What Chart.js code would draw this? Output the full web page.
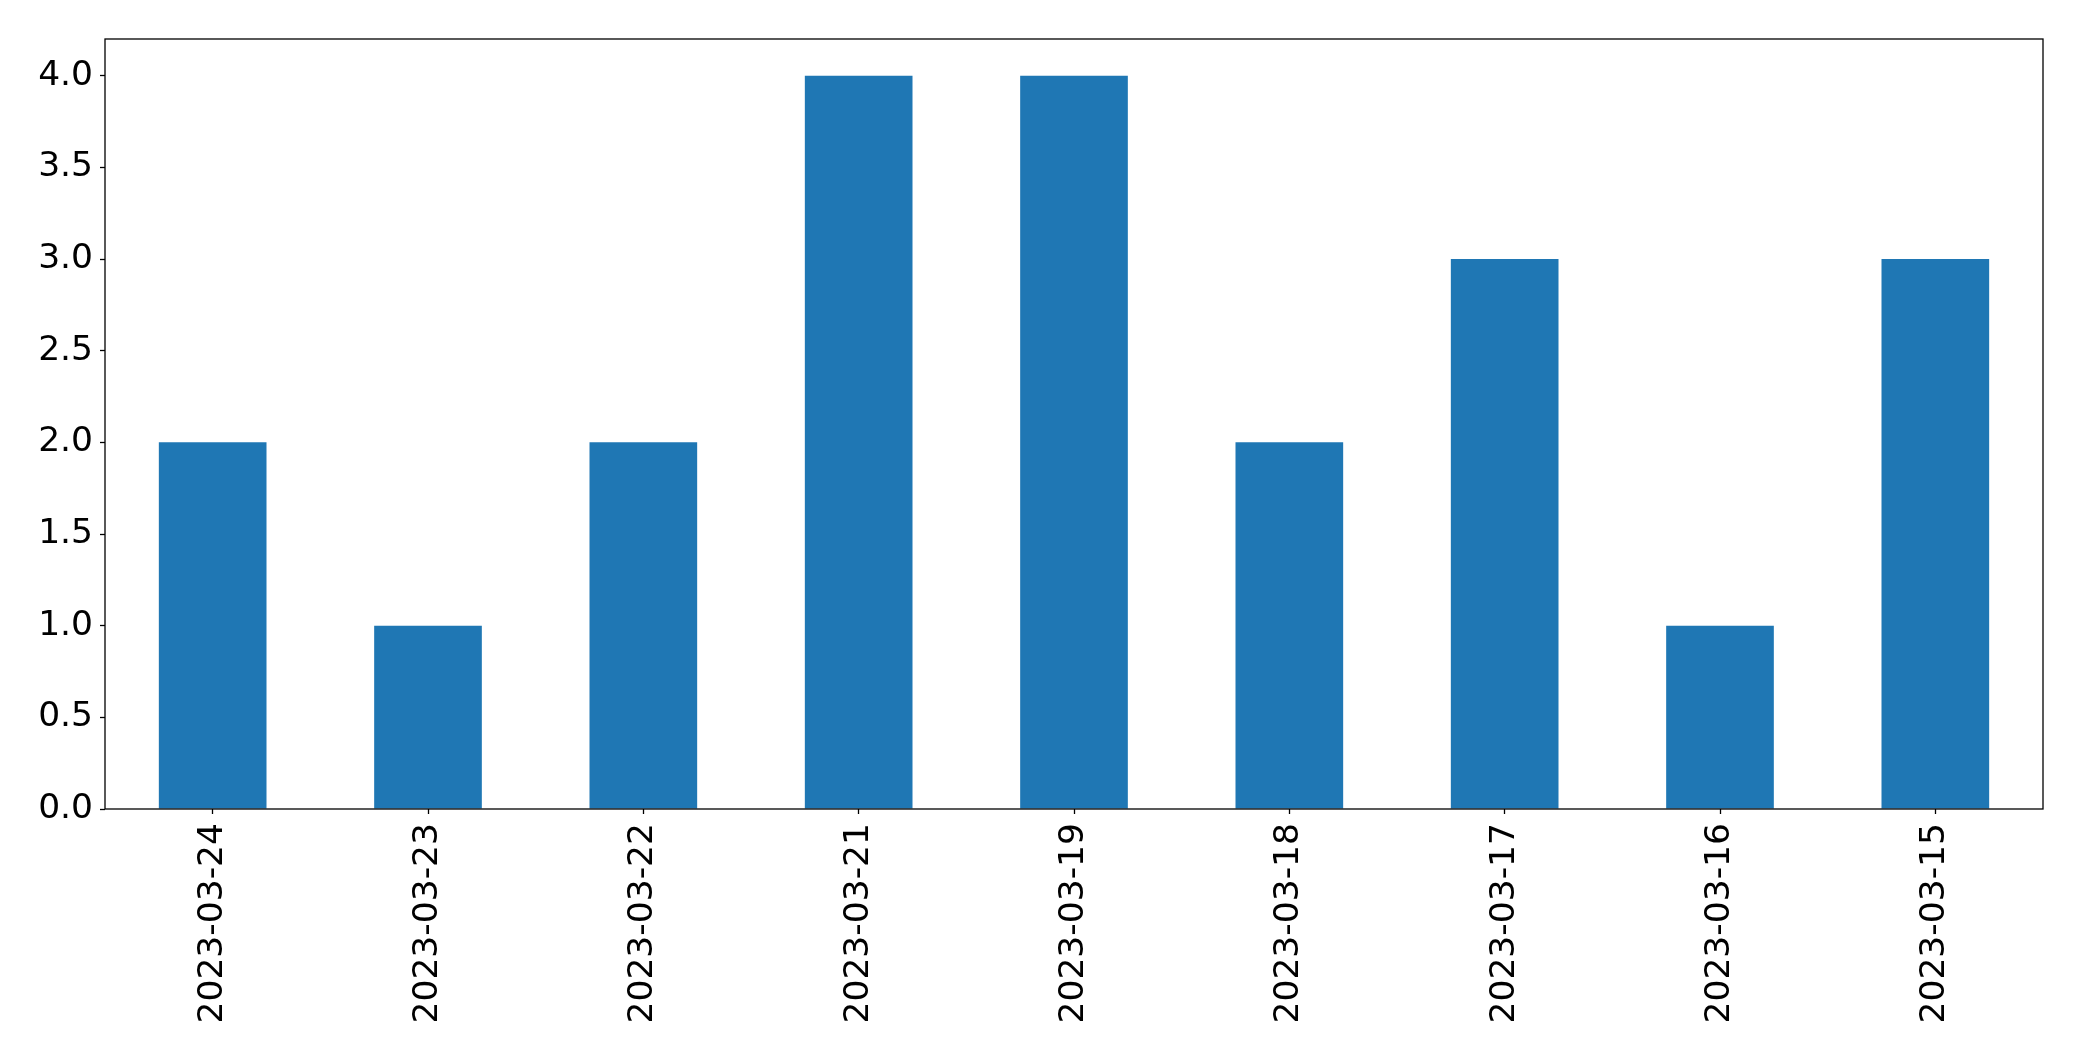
<!DOCTYPE html>
<html>
<head>
<meta charset="utf-8">
<script src="https://cdn.jsdelivr.net/npm/chart.js@4/dist/chart.umd.min.js"></script>
<style>
  html, body { margin: 0; padding: 0; background: #ffffff; }
  #wrap { width: 2082px; height: 1061px; position: relative; }
</style>
</head>
<body>
<div id="wrap"><canvas id="c" width="2082" height="1061"></canvas></div>
<script>
const categories = ["2023-03-24", "2023-03-23", "2023-03-22", "2023-03-21", "2023-03-19", "2023-03-18", "2023-03-17", "2023-03-16", "2023-03-15"];
const values = [2, 1, 2, 4, 4, 2, 3, 1, 3];
const yTickValues = [0, 0.5, 1, 1.5, 2, 2.5, 3, 3.5, 4];

const frame = {
  id: 'frame',
  afterDatasetsDraw(chart) {
    const { ctx, chartArea: a } = chart;
    ctx.save();
    ctx.strokeStyle = '#000';
    ctx.lineWidth = 1.3;
    ctx.strokeRect(a.left, a.top, a.right - a.left, a.bottom - a.top);
    ctx.restore();
  }
};

new Chart(document.getElementById('c'), {
  type: 'bar',
  data: {
    labels: categories,
    datasets: [{
      data: values,
      backgroundColor: '#1f77b4',
      borderWidth: 0,
      categoryPercentage: 1.0,
      barPercentage: 0.5
    }]
  },
  options: {
    responsive: false,
    animation: false,
    devicePixelRatio: 1,
    layout: { padding: { left: 0, top: 39, right: 39, bottom: 0 } },
    plugins: { legend: { display: false }, tooltip: { enabled: false } },
    scales: {
      x: {
        grid: { offset: false, drawOnChartArea: false, drawTicks: true, tickLength: 5, tickColor: '#000', tickWidth: 1.3 },
        border: { display: false },
        ticks: {
          color: '#000',
          font: { family: 'DejaVu Sans', size: 34.5 },
          minRotation: 90, maxRotation: 90,
          padding: 9,
          autoSkip: false
        },
        afterFit(scale) { scale.height = 252; }
      },
      y: {
        min: 0, max: 4.2,
        grid: { drawOnChartArea: false, drawTicks: true, tickLength: 5, tickColor: '#000', tickWidth: 1.3 },
        border: { display: false },
        afterBuildTicks(scale) { scale.ticks = yTickValues.map(v => ({ value: v })); },
        ticks: {
          color: '#000',
          font: { family: 'DejaVu Sans', size: 34.5 },
          padding: 7,
          callback: v => Number(v).toFixed(1)
        },
        afterFit(scale) { scale.width = 105; }
      }
    }
  },
  plugins: [frame]
});
</script>
</body>
</html>
